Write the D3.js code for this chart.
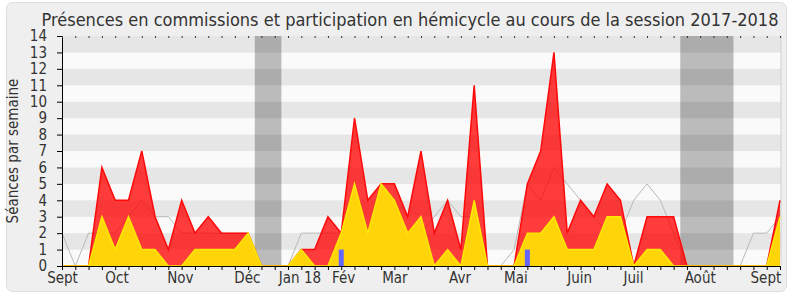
<!DOCTYPE html>
<html>
<head>
<meta charset="utf-8">
<script src="https://cdn.jsdelivr.net/npm/d3@7"></script>
<style>
body { margin: 0; background: #fff; }
text { font-family: "DejaVu Sans Condensed", "DejaVu Sans", sans-serif; fill: #333; }
</style>
</head>
<body>
<div id="chart"></div>
<script>
// semaines de la session (index 0 = début septembre 2017)
var semaines = d3.range(55);

// séances par semaine (zone rouge : présences, zone jaune : hémicycle)
var presences = [0, 0, 0, 6, 4, 4, 7, 3, 1, 4, 2, 3, 2, 2, 2, 0, 0, 0, 1, 1,
                 3, 2, 9, 4, 5, 5, 3, 7, 2, 4, 1, 11, 0, 0, 0, 5, 7, 13, 2, 4,
                 3, 5, 4, 0, 3, 3, 3, 0, 0, 0, 0, 0, 0, 0, 4];
var hemicycle = [0, 0, 0, 3, 1, 3, 1, 1, 0, 0, 1, 1, 1, 1, 2, 0, 0, 0, 1, 0,
                 0, 2, 5, 2, 5, 4, 2, 3, 0, 1, 0, 4, 0, 0, 0, 2, 2, 3, 1, 1,
                 1, 3, 3, 0, 1, 1, 0, 0, 0, 0, 0, 0, 0, 0, 3];
// médiane des députés (ligne grise)
var mediane = [2, 0, 2, 2, 2, 3, 4, 3, 3, 2, 2, 2, 2, 2, 2, 0, 0, 0, 2, 2,
               2, 2, 2, 2, 0, 2, 2, 2, 3, 4, 3, 3, 0, 0, 1, 5, 4, 6, 5, 4,
               3, 2, 2, 4, 5, 4, 2, 0, 0, 0, 0, 0, 2, 2, 3];
// questions orales (barres bleues)
var questionSemaines = [21, 35];
var questionValeurs = [1, 1];

// vacances parlementaires (en semaines)
var vacances = [[14.5, 16.5], [46.5, 50.5]];

// étiquettes des mois
var moisLabels = ["Sept", "Oct", "Nov", "Déc", "Jan 18", "Fév", "Mar", "Avr", "Mai", "Juin", "Juil", "Août", "Sept"];
var moisPos = [0, 4.1, 8.87, 13.9, 17.86, 21.14, 25, 29.9, 34.1, 38.9, 42.95, 47.96, 52.9];

var titre = "Présences en commissions et participation en hémicycle au cours de la session 2017-2018";

var width = 790;
var height = 300;

var x = d3.scaleLinear().domain([0, 54]).range([62, 780]);
var y = d3.scaleLinear().domain([0, 14]).range([266, 36]);

var svg = d3.select("#chart").append("svg")
  .attr("width", width)
  .attr("height", height);

// cadre
svg.append("rect")
  .attr("x", 6.5).attr("y", 2.5)
  .attr("width", 780).attr("height", 289)
  .attr("rx", 6)
  .style("fill", "#efefef")
  .style("stroke", "#dedede");

svg.append("text")
  .attr("x", 410)
  .attr("y", 26)
  .attr("text-anchor", "middle")
  .style("font-size", "18px")
  .text(titre);

// bandes du fond
svg.append("g").selectAll("rect")
  .data(d3.range(14))
  .enter().append("rect")
    .attr("x", x(0))
    .attr("width", 781 - x(0))
    .attr("y", function(d) { return y(d + 1); })
    .attr("height", function(d) { return y(d) - y(d + 1); })
    .style("fill", function(d) { return d % 2 ? "#e6e6e6" : "#fafafa"; });

svg.append("g").selectAll("rect")
  .data(vacances)
  .enter().append("rect")
    .attr("x", function(d) { return x(d[0]); })
    .attr("width", function(d) { return x(d[1]) - x(d[0]); })
    .attr("y", y(14))
    .attr("height", y(0) - y(14))
    .style("fill", "rgba(0,0,0,0.25)");

svg.append("line")
  .attr("x1", 781).attr("x2", 781)
  .attr("y1", y(14)).attr("y2", y(0))
  .style("stroke", "#d0d0d0");

// médiane
var ligne = d3.line()
  .x(function(d, i) { return x(semaines[i]); })
  .y(function(d) { return y(d); });

svg.append("path")
  .datum(mediane)
  .attr("d", ligne)
  .style("fill", "none")
  .style("stroke", "#b8b8b8")
  .style("stroke-width", 1);

var aire = d3.area()
  .x(function(d, i) { return x(semaines[i]); })
  .y0(y(0))
  .y1(function(d) { return y(d); });

svg.append("path")
  .datum(presences)
  .attr("d", aire)
  .style("fill", "rgba(255,0,0,0.76)");
svg.append("path")
  .datum(presences)
  .attr("d", ligne)
  .style("fill", "none")
  .style("stroke", "#ff0a0a")
  .style("stroke-width", 1.5);

svg.append("path")
  .datum(hemicycle)
  .attr("d", aire)
  .style("fill", "#ffd50a");
svg.append("path")
  .datum(hemicycle)
  .attr("d", ligne)
  .style("fill", "none")
  .style("stroke", "#ffe800")
  .style("stroke-width", 1.5);

svg.append("g").selectAll("rect")
  .data(questionSemaines)
  .enter().append("rect")
    .attr("x", function(d) { return x(d) - 2.5; })
    .attr("width", 5)
    .attr("y", function(d, i) { return y(questionValeurs[i]); })
    .attr("height", function(d, i) { return y(0) - y(questionValeurs[i]); })
    .style("fill", "#6464ff");

// axes
var axeY = svg.append("g")
  .attr("transform", "translate(" + x(0) + ",0)")
  .call(d3.axisLeft(y).ticks(14).tickSize(5).tickPadding(10));
axeY.selectAll("text").style("font-size", "15px").style("fill", "#333");

var axeX = svg.append("g")
  .attr("transform", "translate(0," + y(0) + ")")
  .call(d3.axisBottom(x).tickValues(semaines).tickSize(4).tickFormat(""));
axeX.select(".domain").attr("d", "M" + x(0) + ",0.5H781");

var axeMois = svg.append("g")
  .attr("transform", "translate(0," + y(0) + ")")
  .call(d3.axisBottom(x).tickValues(moisPos).tickSize(0).tickPadding(6)
    .tickFormat(function(d, i) { return moisLabels[i]; }));
axeMois.select(".domain").remove();
axeMois.selectAll("text").style("font-size", "15px").style("fill", "#333");

var axeHaut = svg.append("g")
  .attr("transform", "translate(0," + y(14) + ")")
  .call(d3.axisTop(x).tickValues(semaines).tickSize(-2).tickFormat(""));
axeHaut.select(".domain").remove();
axeHaut.selectAll("line").style("stroke", "#333");

svg.append("text")
  .attr("transform", "rotate(-90)")
  .attr("x", -(y(0) + y(14)) / 2)
  .attr("y", 18)
  .attr("text-anchor", "middle")
  .style("font-size", "15px")
  .text("Séances par semaine");
</script>
</body>
</html>
